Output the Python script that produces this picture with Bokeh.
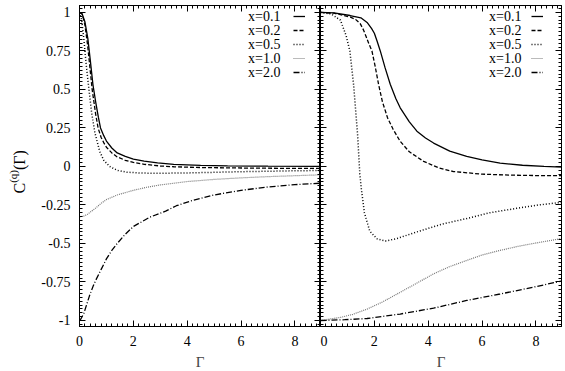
import math
from bokeh.plotting import figure
from bokeh.models import (LinearAxis, FixedTicker, Range1d, Legend, LegendItem, Label,
                          CustomLabelingPolicy)
from bokeh.layouts import row
from bokeh.embed import file_html
from bokeh.resources import INLINE

# ---------------- data ----------------
series_labels = ["x=0.1", "x=0.2", "x=0.5", "x=1.0", "x=2.0"]

# left panel
gL_01 = [0, 0.1, 0.2, 0.31, 0.4, 0.5, 0.6, 0.7, 0.78, 0.9, 1.0, 1.2, 1.4, 1.7, 2.0, 2.4, 2.9, 3.5, 4.5, 5.5, 7.0, 9.0]
cL_01 = [1.0, 0.99, 0.94, 0.83, 0.69, 0.53, 0.42, 0.32, 0.25, 0.2, 0.165, 0.12, 0.088, 0.065, 0.048, 0.034, 0.023, 0.014, 0.007, 0.004, 0.002, 0.0]

gL_02 = [0, 0.1, 0.2, 0.3, 0.4, 0.47, 0.6, 0.69, 0.8, 0.9, 1.0, 1.2, 1.4, 1.7, 2.0, 2.4, 3.0, 3.5, 4.5, 6.0, 7.5, 9.0]
cL_02 = [1.0, 0.99, 0.92, 0.79, 0.62, 0.5, 0.34, 0.25, 0.19, 0.155, 0.125, 0.088, 0.062, 0.04, 0.026, 0.014, 0.003, -0.002, -0.007, -0.01, -0.012, -0.013]

gL_05 = [0, 0.08, 0.16, 0.25, 0.35, 0.45, 0.57, 0.75, 0.9, 1.12, 1.4, 1.74, 2.3, 3.0, 4.0, 5.0, 6.0, 7.0, 8.0, 9.0]
cL_05 = [1.0, 0.95, 0.83, 0.66, 0.5, 0.35, 0.22, 0.098, 0.04, 0.0, -0.025, -0.037, -0.043, -0.044, -0.042, -0.038, -0.034, -0.031, -0.028, -0.026]

gL_10 = [0, 0.15, 0.3, 0.45, 0.6, 0.8, 1.0, 1.4, 2.0, 2.5, 3.0, 4.0, 5.0, 6.0, 7.0, 8.0, 9.0]
cL_10 = [-0.327, -0.323, -0.31, -0.29, -0.27, -0.24, -0.215, -0.185, -0.155, -0.135, -0.12, -0.098, -0.084, -0.074, -0.066, -0.06, -0.054]

gL_20 = [0, 0.05, 0.16, 0.26, 0.37, 0.5, 0.6, 0.8, 1.0, 1.2, 1.4, 1.7, 2.0, 2.6, 3.2, 3.6, 4.2, 5.0, 6.0, 7.0, 8.0, 9.0]
cL_20 = [-1.0, -0.99, -0.955, -0.9, -0.84, -0.78, -0.74, -0.67, -0.6, -0.545, -0.5, -0.44, -0.39, -0.33, -0.29, -0.255, -0.22, -0.185, -0.155, -0.133, -0.118, -0.108]

# right panel
gR_01 = [0, 0.5, 1.1, 1.5, 1.73, 1.9, 2.0, 2.1, 2.22, 2.4, 2.59, 2.8, 2.96, 3.3, 3.58, 3.9, 4.2, 4.8, 5.43, 6.0, 6.67, 7.5, 8.3, 9.0]
cR_01 = [1.0, 0.997, 0.98, 0.965, 0.935, 0.895, 0.865, 0.815, 0.75, 0.64, 0.534, 0.44, 0.381, 0.29, 0.229, 0.185, 0.152, 0.1, 0.065, 0.043, 0.022, 0.008, 0.0, -0.004]

gR_02 = [0, 0.5, 1.11, 1.3, 1.48, 1.6, 1.7, 1.8, 1.91, 2.03, 2.16, 2.3, 2.49, 2.7, 2.96, 3.3, 3.83, 4.4, 4.94, 6.0, 7.0, 8.0, 9.0]
cR_02 = [1.0, 0.995, 0.97, 0.955, 0.926, 0.885, 0.84, 0.795, 0.75, 0.65, 0.53, 0.42, 0.316, 0.24, 0.163, 0.095, 0.033, -0.01, -0.033, -0.05, -0.056, -0.059, -0.06]

gR_05 = [0, 0.4, 0.74, 0.95, 1.09, 1.23, 1.38, 1.46, 1.52, 1.63, 1.83, 2.1, 2.41, 2.8, 3.58, 4.5, 5.43, 6.3, 7.28, 8.1, 9.0]
cR_05 = [1.0, 0.99, 0.95, 0.85, 0.75, 0.53, 0.2, -0.05, -0.15, -0.3, -0.42, -0.47, -0.484, -0.47, -0.425, -0.375, -0.338, -0.3, -0.272, -0.25, -0.232]

gR_10 = [0, 0.74, 1.2, 1.73, 2.3, 2.96, 3.5, 4.2, 4.8, 5.43, 6.0, 6.67, 7.3, 7.9, 8.5, 9.0]
cR_10 = [-1.0, -0.98, -0.96, -0.926, -0.88, -0.817, -0.765, -0.697, -0.65, -0.61, -0.575, -0.545, -0.52, -0.5, -0.482, -0.466]

gR_20 = [0, 0.9, 1.73, 2.96, 4.2, 5.43, 6.67, 7.9, 9.0]
cR_20 = [-1.0, -0.995, -0.987, -0.958, -0.92, -0.87, -0.828, -0.784, -0.742]

x_major_ticks = [0, 2, 4, 6, 8]
y_major_ticks = [-1, -0.75, -0.5, -0.25, 0, 0.25, 0.5, 0.75, 1]
y_tick_labels = ["-1", "-0.75", "-0.5", "-0.25", "0", "0.25", "0.5", "0.75", "1"]

# ---------------- styling ----------------
FONT = "Liberation Serif"
styles = [
    dict(line_color="black", line_dash="solid", line_width=1.3),
    dict(line_color="black", line_dash="4 2", line_width=1.3),
    dict(line_color="black", line_dash="1 2", line_width=1.5),
    dict(line_color="#777777", line_dash="1 1", line_width=1.2),
    dict(line_color="black", line_dash="6 2 1 2", line_width=1.3),
]

x_minor = [round(0.2 * i, 1) for i in range(46)]
y_minor = [round(-1.025 + 0.025 * i, 3) for i in range(83)]

FRAME_W = 241
FRAME_H = 321
ROW_Y = [310, 296, 282, 268, 254]   # legend row centres, px above frame bottom


def style_axis(ax, ticks, minor, show_labels, overrides=None):
    ax.ticker = FixedTicker(ticks=ticks, minor_ticks=minor)
    ax.major_tick_in = 6
    ax.major_tick_out = 0
    ax.minor_tick_in = 3
    ax.minor_tick_out = 0
    ax.axis_line_color = "black"
    ax.major_tick_line_color = "black"
    ax.minor_tick_line_color = "black"
    ax.axis_line_width = 1
    ax.major_label_text_font = FONT
    ax.major_label_text_color = "black"
    if show_labels:
        ax.major_label_text_font_size = "14px"
        ax.major_label_text_line_height = 1.0
        ax.major_label_standoff = 9
        if overrides:
            ax.major_label_overrides = overrides
    else:
        ax.major_label_text_font_size = "0px"
        ax.major_label_standoff = 0
        ax.major_label_policy = CustomLabelingPolicy(code="return []")


def make_panel(data, left_border, right_border, show_ylabels, samp_x):
    p = figure(frame_width=FRAME_W, frame_height=FRAME_H,
               x_range=Range1d(0, 8.95), y_range=Range1d(-1.039, 1.045),
               output_backend="svg", toolbar_location=None,
               min_border_left=left_border, min_border_right=right_border,
               min_border_top=5, min_border_bottom=0)
    p.grid.visible = False
    p.background_fill_color = "white"
    p.border_fill_color = "white"
    p.outline_line_color = "black"
    p.outline_line_width = 1

    p.add_layout(LinearAxis(), "above")
    p.add_layout(LinearAxis(), "right")

    style_axis(p.below[0], x_major_ticks, x_minor, True)
    p.below[0].axis_label = "Γ"
    p.below[0].axis_label_text_font = FONT
    p.below[0].axis_label_text_font_style = "normal"
    p.below[0].axis_label_text_font_size = "15px"
    p.below[0].axis_label_text_line_height = 1.0
    p.below[0].axis_label_standoff = 5
    style_axis(p.above[0], x_major_ticks, x_minor, False)
    style_axis(p.left[0], y_major_ticks, y_minor, show_ylabels,
               dict(zip(y_major_ticks, y_tick_labels)))
    style_axis(p.right[0], y_major_ticks, y_minor, False)

    renderers = []
    for (g, c), st in zip(data, styles):
        renderers.append(p.line(g, c, **st))

    # legend: text (right aligned) followed by the line sample, as in the original
    for lab, yy in zip(series_labels, ROW_Y):
        p.add_layout(Label(x=201, y=yy, x_units="screen", y_units="screen", text=lab,
                           text_font=FONT, text_font_size="14px", text_color="black",
                           text_align="right", text_baseline="middle"))
    leg_samp = Legend(items=[LegendItem(label=" ", renderers=[r]) for r in renderers],
                      location=(samp_x, ROW_Y[-1] - 7), glyph_width=12, glyph_height=14,
                      label_height=14, label_width=1, label_standoff=0, spacing=0,
                      padding=0, margin=0, border_line_alpha=0, background_fill_alpha=0,
                      label_text_font=FONT, label_text_font_size="9px")
    p.add_layout(leg_samp)
    return p


LAB_W = 30
left = make_panel([(gL_01, cL_01), (gL_02, cL_02), (gL_05, cL_05), (gL_10, cL_10), (gL_20, cL_20)],
                  79 - LAB_W, 0, True, 214)
right = make_panel([(gR_01, cR_01), (gR_02, cR_02), (gR_05, cR_05), (gR_10, cR_10), (gR_20, cR_20)],
                   0, 565 - 79 - 2 * FRAME_W, False, 211)

# y-axis title C^(q)(Γ) in a narrow text-only strip at the left (rotated pieces)
lab_fig = figure(frame_width=LAB_W, frame_height=370, x_range=Range1d(0, 1), y_range=Range1d(0, 1),
                 output_backend="svg", toolbar_location=None, x_axis_type=None, y_axis_type=None,
                 min_border_left=0, min_border_right=0, min_border_top=0, min_border_bottom=0)
lab_fig.grid.visible = False
lab_fig.outline_line_color = None
lab_fig.background_fill_color = "white"
lab_fig.border_fill_color = "white"
lab_common = dict(x_units="screen", y_units="screen", angle=math.pi / 2,
                  text_font=FONT, text_color="black",
                  text_align="left", text_baseline="alphabetic")
lab_fig.add_layout(Label(x=18.5, y=182, text="C", text_font_size="16px", **lab_common))
lab_fig.add_layout(Label(x=12.5, y=192.7, text="(q)", text_font_size="11px", **lab_common))
lab_fig.add_layout(Label(x=18.5, y=205.5, text="(Γ)", text_font_size="16px", **lab_common))

layout = row(lab_fig, left, right)
open("out.html", "w").write(file_html(layout, INLINE))
